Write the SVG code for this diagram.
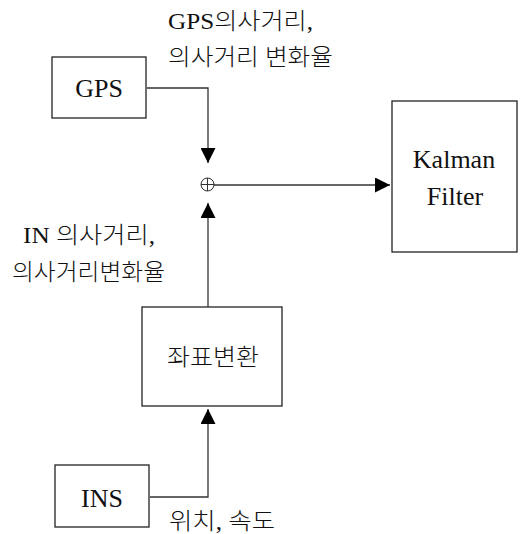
<svg xmlns="http://www.w3.org/2000/svg" width="526" height="534" viewBox="0 0 526 534">
<style>
.box{fill:#fff;stroke:#222;stroke-width:1.3}
.ln{fill:none;stroke:#333;stroke-width:1.3}
text{font-family:"Liberation Serif","Noto Sans CJK KR",serif;font-size:26px;fill:#111}
.k{font-family:"Liberation Serif","Noto Sans CJK KR",serif;font-size:23px;font-weight:300}
</style>
<defs>
<marker id="ah" viewBox="0 0 10 10" refX="10" refY="5" markerWidth="16" markerHeight="15" markerUnits="userSpaceOnUse" orient="auto">
<path d="M0,0L10,5L0,10z" fill="#000"/>
</marker>
</defs>
<g id="gps"><rect class="box" x="52" y="57" width="94" height="61"/><text x="99" y="97" text-anchor="middle">GPS</text></g>
<g id="kalman"><rect class="box" x="392" y="101" width="125" height="151"/><text x="454" y="168" text-anchor="middle">Kalman</text><text x="455" y="205" text-anchor="middle">Filter</text></g>
<g id="transform"><rect class="box" x="142" y="307" width="140" height="99"/><text x="167" y="365" class="k" textLength="92" lengthAdjust="spacingAndGlyphs">좌표변환</text></g>
<g id="ins"><rect class="box" x="55" y="465" width="94" height="62"/><text x="102" y="507" text-anchor="middle">INS</text></g>
<g id="sum"><circle cx="207.5" cy="184.5" r="6.5" fill="none" stroke="#333" stroke-width="1"/><path d="M201,184.5H214M207.5,178V191" stroke="#333" stroke-width="1"/></g>
<g id="connectors">
<path class="ln" d="M147,88H208V163" marker-end="url(#ah)"/>
<path class="ln" d="M214,185H390" marker-end="url(#ah)"/>
<path class="ln" d="M208,307V203" marker-end="url(#ah)"/>
<path class="ln" d="M150,497H208V409" marker-end="url(#ah)"/>
</g>
<g id="labels">
<text class="k" x="168" y="29" textLength="145" lengthAdjust="spacingAndGlyphs">GPS의사거리,</text>
<text class="k" x="168" y="65" textLength="165" lengthAdjust="spacingAndGlyphs">의사거리 변화율</text>
<text class="k" x="23" y="243" textLength="132" lengthAdjust="spacingAndGlyphs">IN 의사거리,</text>
<text class="k" x="12" y="280" textLength="153" lengthAdjust="spacingAndGlyphs">의사거리변화율</text>
<text class="k" x="169" y="529" textLength="106" lengthAdjust="spacingAndGlyphs">위치, 속도</text>
</g>
</svg>
